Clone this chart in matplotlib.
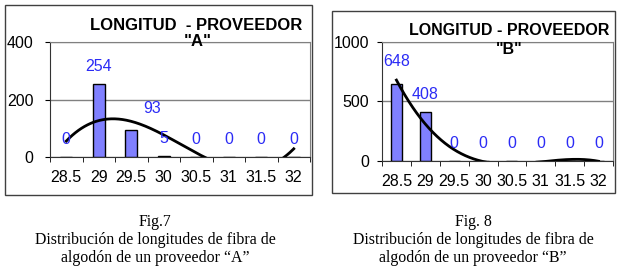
import numpy as np
import matplotlib
matplotlib.use('Agg')
import matplotlib.pyplot as plt
from matplotlib.patches import Rectangle

plt.rcParams['font.family'] = ['Liberation Sans', 'DejaVu Sans']

# ---------------------------------------------------------------
# Datos
# ---------------------------------------------------------------
categories = ['28.5', '29', '29.5', '30', '30.5', '31', '31.5', '32']
counts_a = [0, 254, 93, 5, 0, 0, 0, 0]
counts_b = [648, 408, 0, 0, 0, 0, 0, 0]

caption_a = ['Fig.7', 'Distribución de longitudes de fibra de',
             'algodón de un proveedor \u201cA\u201d']
caption_b = ['Fig. 8', 'Distribución de longitudes de fibra de',
             'algodón de un proveedor \u201cB\u201d']

TREND_DEG = 3
BAR_COLOR = '#8080FF'
LABEL_COLOR = '#2B2BF5'

fig = plt.figure(figsize=(6.38, 2.73), dpi=100)


def panel(rect, counts, ymax, yticks, label_shift, ypad):
    ax = fig.add_axes(rect)
    x = np.arange(len(counts))
    ax.bar(x, counts, width=0.38, color=BAR_COLOR, edgecolor='black',
           linewidth=1, zorder=2)

    # linea de tendencia polinomica (como en Excel)
    p = np.polyfit(x + 1, counts, TREND_DEG)
    xs = np.linspace(0, len(counts) - 1, 300)
    ax.plot(xs, np.polyval(p, xs + 1), color='black', lw=2, zorder=3)

    # etiquetas de valor
    for i, v in enumerate(counts):
        dx, dy = label_shift.get(i, (0, 0))
        ax.annotate(str(v), (i, v), xytext=(dx, 12.5 + dy),
                    textcoords='offset points', ha='center', va='center',
                    color=LABEL_COLOR, fontsize=11.5, zorder=4,
                    annotation_clip=False)

    ax.set_xlim(-0.5, len(counts) - 0.5)
    ax.set_ylim(0, ymax)
    ax.set_yticks(yticks)
    ax.set_xticks(x)
    ax.set_xticklabels(categories)
    ax.set_xticks(np.arange(len(counts) + 1) - 0.5, minor=True)
    ax.tick_params(axis='x', which='major', length=0, pad=9, labelsize=11.5)
    ax.tick_params(axis='x', which='minor', length=3.5, direction='out')
    ax.tick_params(axis='y', length=3.5, pad=ypad, labelsize=11.5)
    ax.grid(axis='y', color='#808080', lw=1)
    ax.set_axisbelow(True)
    for s in ['top', 'right']:
        ax.spines[s].set_color('#808080')
    for s in ['left', 'bottom']:
        ax.spines[s].set_color('#333333')
    return ax


ax_a = panel([50/638, 116/273, 260/638, 115/273], counts_a, 400, [0, 200, 400],
             {2: (15, 3)}, 8.5)
ax_b = panel([382/638, 112/273, 231/638, 119.3/273], counts_b, 1000, [0, 500, 1000],
             {0: (0, 3.5)}, 6)

# marcos de cada grafico
fig.patches.append(Rectangle((5/638, 78/273), 307/638, 190/273, transform=fig.transFigure,
                             fill=False, edgecolor='#404040', lw=1))
fig.patches.append(Rectangle((332/638, 80.5/273), 283/638, 182/273, transform=fig.transFigure,
                             fill=False, edgecolor='#404040', lw=1))

# titulos
fig.text(196/638, 1 - 25/273, 'LONGITUD  - PROVEEDOR', ha='center', va='center',
         fontsize=12, fontweight='bold')
fig.text(198/638, 1 - 42/273, '"A"', ha='center', va='center',
         fontsize=12, fontweight='bold')
fig.text(509/638, 1 - 30/273, 'LONGITUD - PROVEEDOR', ha='center', va='center',
         fontsize=11.5, fontweight='bold')
fig.text(509/638, 1 - 50/273, '"B"', ha='center', va='center',
         fontsize=11.5, fontweight='bold')

# leyendas de las figuras (una linea cada vez)
for cx, lines in [(155, caption_a), (473, caption_b)]:
    for j, line in enumerate(lines):
        fig.text(cx/638, 1 - (226 + 18*j)/273, line, ha='center', va='baseline',
                 fontsize=11.4, family='Liberation Serif')

fig.savefig('out.png', dpi=100)
